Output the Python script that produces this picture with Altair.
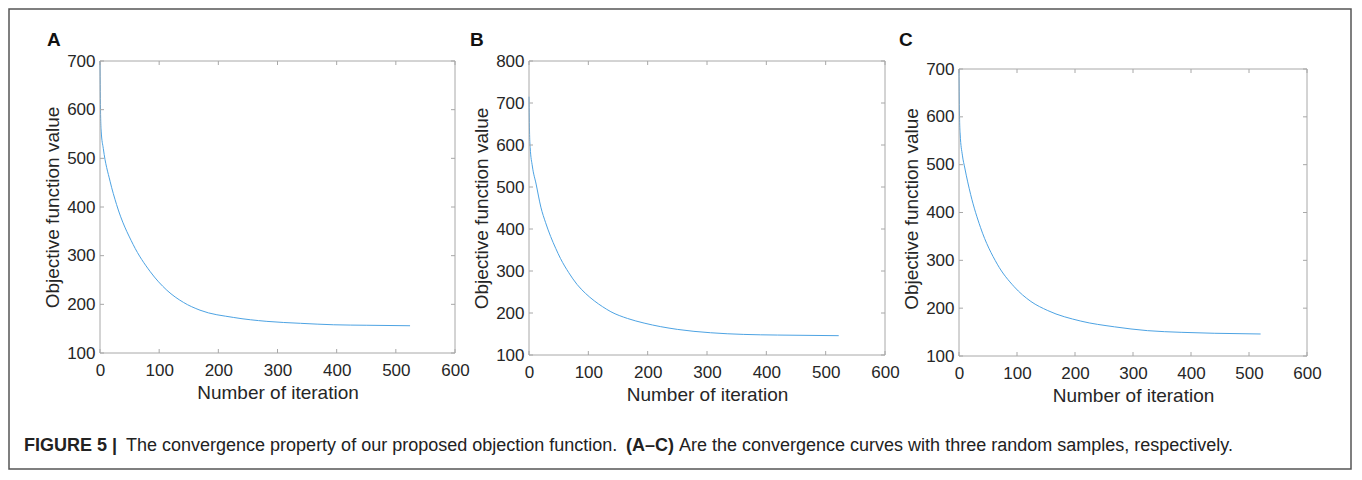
import altair as alt
import pandas as pd

# ---------------- data ----------------
X_TICKS = [0, 100, 200, 300, 400, 500, 600]

A_iter = [0, 1, 2, 5.6, 17, 28, 56, 85, 113, 141, 169, 226, 282, 339, 395, 451, 524]
A_obj = [700, 590, 556, 520, 453, 405, 323, 267, 229, 204, 188, 173, 165, 161, 158, 157, 156]
A_yticks = [100, 200, 300, 400, 500, 600, 700]

B_iter = [0, 1, 2, 5.6, 12, 20, 28, 36.5, 45, 53, 67, 81, 95, 110, 124, 138,
          166, 194, 250, 306, 362, 419, 522]
B_obj = [715, 625, 594, 550, 507, 452, 415, 382, 354, 330, 296, 268, 247, 229, 215, 203,
         187, 176, 161, 153, 149, 147.5, 146]
B_yticks = [100, 200, 300, 400, 500, 600, 700, 800]

C_iter = [0, 1, 2, 5.8, 10, 20, 37, 66, 95, 124, 153, 210, 268, 325, 383, 440, 520]
C_obj = [700, 595, 564, 520, 493, 438, 369, 292, 245, 214, 195, 173, 161, 153, 149.5, 147.5, 146]
C_yticks = [100, 200, 300, 400, 500, 600, 700]

X_TITLE = "Number of iteration"
Y_TITLE = "Objective function value"
CAP_1 = "FIGURE 5 |"
CAP_2 = "The convergence property of our proposed objection function."
CAP_3 = "(A\u2013C)"
CAP_4 = "Are the convergence curves with three random samples, respectively."

# ---------------- styling ----------------
FONT = "Liberation Sans"
LINE_COLOR = "#4da3e3"
FRAME = "#a8a8a8"
TEXT = "#262626"
TICK = 4


def xaxis():
    return alt.Axis(values=X_TICKS, title=X_TITLE, grid=False,
                    ticks=False, tickSize=0, domain=False,
                    labelPadding=9, titlePadding=5,
                    labelFontSize=17, titleFontSize=19,
                    labelColor=TEXT, titleColor=TEXT,
                    titleFontWeight="normal", labelFont=FONT,
                    titleFont=FONT, labelFlush=False)


def yaxis(vals):
    return alt.Axis(values=vals, title=Y_TITLE, grid=False,
                    ticks=False, tickSize=0, domain=False,
                    labelPadding=5, titlePadding=4,
                    labelFontSize=17, titleFontSize=19,
                    labelColor=TEXT, titleColor=TEXT,
                    titleFontWeight="normal", labelFont=FONT,
                    titleFont=FONT, labelFlush=False)


one = pd.DataFrame({"k": [0]})


def panel(xs, ys, yticks, ydom, w, h, top, letter, l_dx, extra=()):
    """top = pixel offset of the plot frame inside the view (0 for A, B)."""
    df = pd.DataFrame({"x": xs, "y": ys})
    xscale = alt.Scale(domain=[0, 600], nice=False, zero=False)
    yscale = alt.Scale(domain=ydom, nice=False, zero=False)
    X = lambda f: alt.X(f, scale=xscale, axis=xaxis(), title=X_TITLE)
    Y = lambda f: alt.Y(f, scale=yscale, axis=yaxis(yticks), title=Y_TITLE)

    line = alt.Chart(df).mark_line(
        color=LINE_COLOR, strokeWidth=1, interpolate="monotone"
    ).encode(x=X("x:Q"), y=Y("y:Q"))

    xt = pd.DataFrame({"t": X_TICKS})
    yt = pd.DataFrame({"t": yticks})
    xb = alt.Chart(xt).mark_rule(color=FRAME, strokeWidth=1).encode(
        x=X("t:Q"), y=alt.value(h), y2=alt.value(h - TICK))
    xtop = alt.Chart(xt).mark_rule(color=FRAME, strokeWidth=1).encode(
        x=X("t:Q"), y=alt.value(top), y2=alt.value(top + TICK))
    yl = alt.Chart(yt).mark_rule(color=FRAME, strokeWidth=1).encode(
        y=Y("t:Q"), x=alt.value(0), x2=alt.value(TICK))
    yr = alt.Chart(yt).mark_rule(color=FRAME, strokeWidth=1).encode(
        y=Y("t:Q"), x=alt.value(w - TICK), x2=alt.value(w))
    frame = alt.Chart(one).mark_rect(
        fillOpacity=0, stroke=FRAME, strokeWidth=1
    ).encode(x=alt.value(0), x2=alt.value(w), y=alt.value(top), y2=alt.value(h))
    lab = alt.Chart(one).mark_text(
        text=letter, align="left", baseline="alphabetic", fontSize=19,
        fontWeight="bold", font=FONT, color="#111111"
    ).encode(x=alt.value(l_dx), y=alt.value(-15))

    return alt.layer(line, xb, xtop, yl, yr, frame, lab, *extra).properties(
        width=w, height=h,
        view=alt.ViewBackground(strokeOpacity=0),
    )


border = alt.Chart(one).mark_rect(
    fillOpacity=0, stroke="#555555", strokeWidth=1.5
).encode(x=alt.value(-91), x2=alt.value(1251), y=alt.value(-52), y2=alt.value(408))

CAP_Y = 390
cap_kw = dict(align="left", baseline="alphabetic", fontSize=18, font=FONT,
              color="#222222")
cap1 = alt.Chart(one).mark_text(text=CAP_1, fontWeight="bold", **cap_kw).encode(
    x=alt.value(-76), y=alt.value(CAP_Y))
cap2 = alt.Chart(one).mark_text(text=CAP_2, **cap_kw).encode(
    x=alt.value(26), y=alt.value(CAP_Y))
cap3 = alt.Chart(one).mark_text(text=CAP_3, fontWeight="bold", **cap_kw).encode(
    x=alt.value(526), y=alt.value(CAP_Y))
cap4 = alt.Chart(one).mark_text(text=CAP_4, **cap_kw).encode(
    x=alt.value(579), y=alt.value(CAP_Y))

# panel C's frame starts 8 px lower; extend its y domain accordingly
C_TOP = 8
C_H = 295
C_dom_top = 700 + 600 * C_TOP / (C_H - C_TOP)

pA = panel(A_iter, A_obj, A_yticks, [100, 700], 355, 292, 0, "A", -53,
           extra=(border, cap1, cap2, cap3, cap4))
pB = panel(B_iter, B_obj, B_yticks, [100, 800], 356, 294, 0, "B", -59)
pC = panel(C_iter, C_obj, C_yticks, [100, C_dom_top], 348, C_H, C_TOP, "C", -60)

chart = alt.hconcat(pA, pB, pC, spacing=74, bounds="flush").properties(
    padding=0
).configure_view(strokeOpacity=0).configure(font=FONT)

chart.save("out.html", embed_options={"renderer": "svg", "actions": False})
